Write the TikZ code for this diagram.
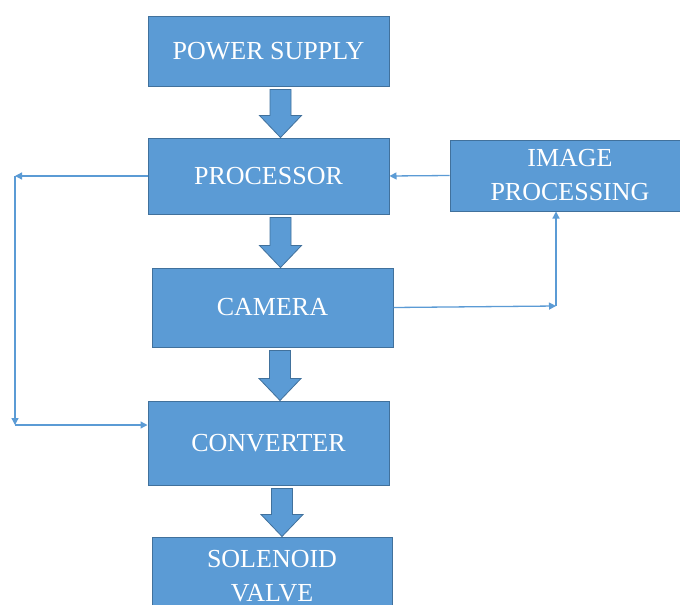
\documentclass[tikz,border=0pt]{standalone}
\usepackage{fontspec}
\setmainfont{Liberation Serif}
\usetikzlibrary{arrows.meta,calc}
\definecolor{boxblue}{RGB}{91,155,213}
\definecolor{boxedge}{RGB}{65,113,156}
\tikzset{
  block/.style={draw=boxedge, fill=boxblue, line width=1pt, text=white,
    font=\fontsize{26}{34}\selectfont, align=center, inner sep=0pt},
  blk/.style={draw=boxedge, fill=boxblue, line width=0.8pt},
  conn/.style={draw=boxblue, line width=1.3pt, -{Triangle[length=7pt,width=7pt]}},
}
% thick block arrow between two stacked boxes, at horizontal position #1
\newcommand{\blockarr}[3]{%
  \draw[blk] let \p1=(#2.south), \p2=(#3.north) in
    (#1pt-10.5pt,\y1-3pt) -- (#1pt+10.5pt,\y1-3pt) -- (#1pt+10.5pt,\y2+22pt)
    -- (#1pt+21pt,\y2+22pt) -- (#1pt,\y2) -- (#1pt-21pt,\y2+22pt)
    -- (#1pt-10.5pt,\y2+22pt) -- cycle;}
\begin{document}
\begin{tikzpicture}[x=1pt,y=-1pt]
\clip (0,0) rectangle (680,605);
\fill[white] (0,0) rectangle (680,605);

\node[block, minimum width=241pt, minimum height=70pt] (ps)   at (268.5,51)    {POWER SUPPLY};
\node[block, minimum width=241pt, minimum height=76pt] (proc) at (268.5,176)   {PROCESSOR};
\node[block, minimum width=241pt, minimum height=79pt] (cam)  at (272.5,307.5) {CAMERA};
\node[block, minimum width=241pt, minimum height=84pt] (conv) at (268.5,443)   {CONVERTER};
\node[block, minimum width=240pt, minimum height=78pt] (sol)  at (272,576)     {SOLENOID\\VALVE};
\node[block, minimum width=240pt, minimum height=71pt] (imgp) at (570,175.5)   {IMAGE\\PROCESSING};

\blockarr{280.5}{ps}{proc}
\blockarr{280.5}{proc}{cam}
\blockarr{280}{cam}{conv}
\blockarr{282}{conv}{sol}

\coordinate (tl) at (15,176);
\coordinate (bl) at (15,425);
\coordinate (cr) at (556,306);

\draw[conn] (proc.west) -- (tl);
\draw[conn] (tl) -- (bl);
\draw[conn] (bl) -- (bl -| conv.west);
\draw[conn] (imgp.west) -- (proc.east);
\draw[conn] (cam.east) -- (cr);
\draw[conn] (cr) -- (cr |- imgp.south);
\end{tikzpicture}
\end{document}
